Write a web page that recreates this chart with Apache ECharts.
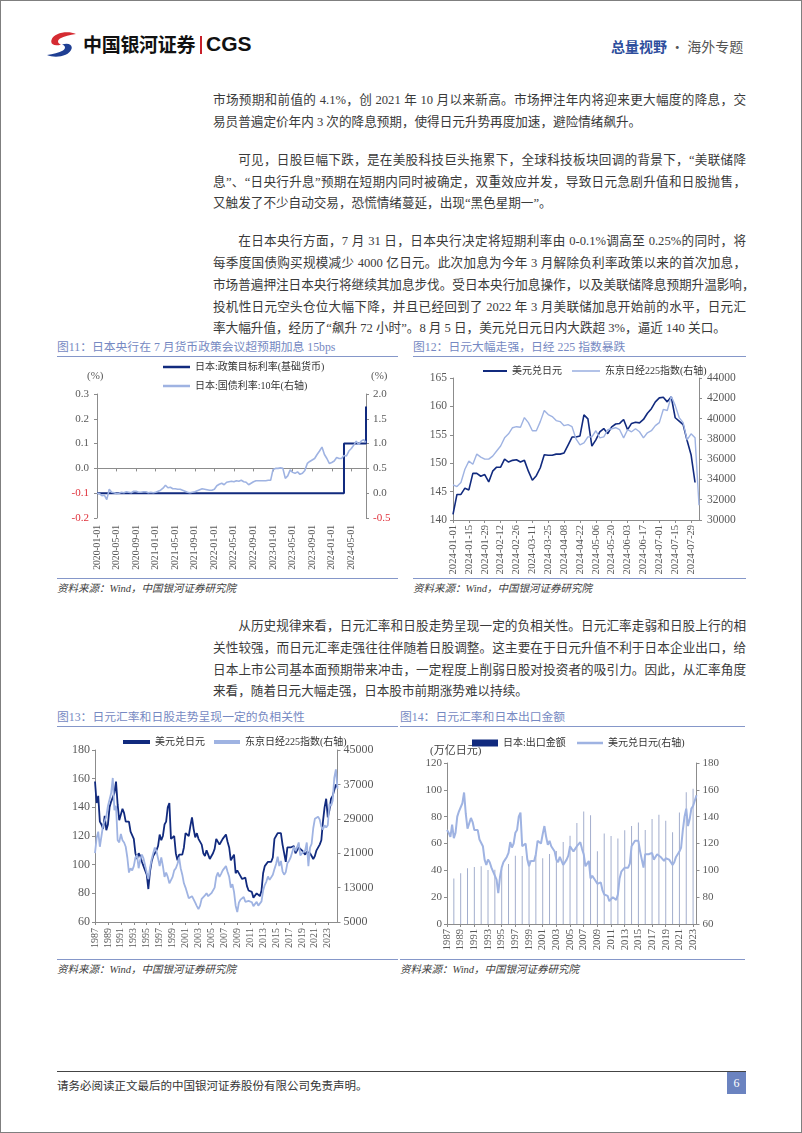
<!DOCTYPE html>
<html><head><meta charset="utf-8">
<script src="https://cdn.jsdelivr.net/npm/echarts@6/dist/echarts.min.js"></script>
<style>
html,body{margin:0;padding:0;background:#fff;}
#page{position:relative;width:802px;height:1133px;overflow:hidden;background:#fff;}
#frame{position:absolute;left:0;top:0;width:800px;height:1131px;border:1px solid #7f7f7f;}
.t{position:absolute;left:213px;width:533px;height:22px;line-height:22px;font-size:12.6px;color:#3a3a3a;white-space:nowrap;font-family:"Liberation Serif","Noto Sans CJK SC",serif;text-align:justify;text-align-last:justify;}
.t.l{text-align-last:left;}
.t.i{text-indent:2em;}
.ttl{position:absolute;height:18px;line-height:18px;font-size:11.8px;color:#7689c2;white-space:nowrap;font-family:"Liberation Serif","Noto Sans CJK SC",serif;}
.rule{position:absolute;height:1px;background:#8597c9;}
.src{position:absolute;height:16px;line-height:16px;font-size:10.5px;color:#404040;font-style:italic;white-space:nowrap;font-family:"Liberation Serif","Noto Sans CJK SC",serif;}
#chart{position:absolute;left:0;top:0;width:802px;height:1133px;}
</style></head>
<body><div id="page">
<div id="frame"></div>
<!-- header -->
<svg style="position:absolute;left:45px;top:32px" width="33" height="25" viewBox="0 0 33 25">
  <path d="M31 2 C23 -1.5 9 0.5 6.5 8 C5 13 10.5 14.5 16 12.5 C12.5 11.5 12 8.5 15 6.5 C19 4 25 3 31 2 Z" fill="#d52b32"/>
  <path d="M2 23 C10 26.5 24 24.5 26.5 17 C28 12 22.5 10.5 17 12.5 C20.5 13.5 21 16.5 18 18.5 C14 21 8 22 2 23 Z" fill="#1f3f93"/>
</svg>
<div style="position:absolute;left:83px;top:33px;font-size:19px;line-height:22px;font-weight:bold;color:#111;font-family:'Noto Sans CJK SC',sans-serif;letter-spacing:-0.3px">中国银河证券</div>
<div style="position:absolute;left:200px;top:36px;width:2px;height:18px;background:#c8202a"></div>
<div style="position:absolute;left:206px;top:32px;font-size:21px;line-height:24px;font-weight:bold;color:#111;font-family:'Liberation Sans',Arial,sans-serif">CGS</div>
<div style="position:absolute;left:611px;top:37px;font-size:14px;line-height:18px;white-space:nowrap;font-family:'Noto Sans CJK SC',serif"><span style="color:#2d4d9c;font-weight:bold">总量视野</span><span style="color:#555"> · 海外专题</span></div>

<!-- paragraphs -->
<div class="t" style="top:89px">市场预期和前值的 4.1%，创 2021 年 10 月以来新高。市场押注年内将迎来更大幅度的降息，交</div>
<div class="t l" style="top:111px">易员普遍定价年内 3 次的降息预期，使得日元升势再度加速，避险情绪飙升。</div>

<div class="t i" style="top:149px">可见，日股巨幅下跌，是在美股科技巨头拖累下，全球科技板块回调的背景下，“美联储降</div>
<div class="t" style="top:171px">息”、“日央行升息”预期在短期内同时被确定，双重效应并发，导致日元急剧升值和日股抛售，</div>
<div class="t l" style="top:192px">又触发了不少自动交易，恐慌情绪蔓延，出现“黑色星期一”。</div>

<div class="t i" style="top:230px">在日本央行方面，7 月 31 日，日本央行决定将短期利率由 0-0.1%调高至 0.25%的同时，将</div>
<div class="t" style="top:252px">每季度国债购买规模减少 4000 亿日元。此次加息为今年 3 月解除负利率政策以来的首次加息，</div>
<div class="t" style="top:274px">市场普遍押注日本央行将继续其加息步伐。受日本央行加息操作，以及美联储降息预期升温影响，</div>
<div class="t" style="top:296px">投机性日元空头仓位大幅下降，并且已经回到了 2022 年 3 月美联储加息开始前的水平，日元汇</div>
<div class="t l" style="top:317px">率大幅升值，经历了“飙升 72 小时”。8 月 5 日，美元兑日元日内大跌超 3%，逼近 140 关口。</div>

<div class="t i" style="top:615px">从历史规律来看，日元汇率和日股走势呈现一定的负相关性。日元汇率走弱和日股上行的相</div>
<div class="t" style="top:637px">关性较强，而日元汇率走强往往伴随着日股调整。这主要在于日元升值不利于日本企业出口，给</div>
<div class="t" style="top:659px">日本上市公司基本面预期带来冲击，一定程度上削弱日股对投资者的吸引力。因此，从汇率角度</div>
<div class="t l" style="top:680px">来看，随着日元大幅走强，日本股市前期涨势难以持续。</div>

<!-- chart titles / rules / sources -->
<div class="ttl" style="left:57px;top:338px">图11：日本央行在 7 月货币政策会议超预期加息 15bps</div>
<div class="rule" style="left:57px;top:356px;width:341px"></div>
<div class="ttl" style="left:413px;top:338px">图12：日元大幅走强，日经 225 指数暴跌</div>
<div class="rule" style="left:413px;top:356px;width:333px"></div>
<div class="rule" style="left:57px;top:578px;width:341px"></div>
<div class="rule" style="left:413px;top:578px;width:333px"></div>
<div class="src" style="left:57px;top:581px">资料来源：Wind，中国银河证券研究院</div>
<div class="src" style="left:413px;top:581px">资料来源：Wind，中国银河证券研究院</div>

<div class="ttl" style="left:57px;top:708px">图13：日元汇率和日股走势呈现一定的负相关性</div>
<div class="rule" style="left:57px;top:726px;width:341px"></div>
<div class="ttl" style="left:400px;top:708px">图14：日元汇率和日本出口金额</div>
<div class="rule" style="left:400px;top:726px;width:345px"></div>
<div class="rule" style="left:57px;top:959px;width:341px"></div>
<div class="rule" style="left:400px;top:959px;width:345px"></div>
<div class="src" style="left:57px;top:962px">资料来源：Wind，中国银河证券研究院</div>
<div class="src" style="left:400px;top:962px">资料来源：Wind，中国银河证券研究院</div>

<!-- footer -->
<div style="position:absolute;left:57px;top:1071px;width:689px;height:1px;background:#444"></div>
<div style="position:absolute;left:57px;top:1077px;font-size:11.5px;line-height:16px;color:#333;white-space:nowrap;font-family:'Noto Sans CJK SC',serif">请务必阅读正文最后的中国银河证券股份有限公司免责声明。</div>
<div style="position:absolute;left:727px;top:1072px;width:19px;height:22px;background:#6b83c0;color:#fff;font-size:12px;line-height:22px;text-align:center;font-family:'Liberation Serif',serif">6</div>

<div id="chart"></div>
</div>
<script>
// ---------- DATA ----------
// Fig 11: JGB 10Y yield (semi-monthly samples, right axis, %)
const jgb10y = [0.00,-0.01,-0.05,-0.04,-0.13,0.08,0.02,0.01,-0.01,0.00,
0.02,0.01,0.03,0.02,0.01,0.04,0.04,0.02,0.02,0.03,
0.03,0.01,0.02,0.01,0.02,0.04,0.06,0.10,0.16,0.11,
0.12,0.09,0.09,0.08,0.08,0.06,0.04,0.02,0.01,0.02,
0.03,0.05,0.07,0.09,0.08,0.07,0.06,0.06,0.08,0.15,
0.18,0.20,0.17,0.22,0.23,0.24,0.23,0.25,0.24,0.26,
0.23,0.22,0.17,0.20,0.23,0.25,0.25,0.25,0.25,0.25,
0.26,0.26,0.48,0.50,0.50,0.51,0.50,0.30,0.35,0.47,
0.42,0.40,0.43,0.38,0.40,0.46,0.60,0.64,0.67,0.70,
0.78,0.85,0.93,0.78,0.70,0.60,0.62,0.65,0.72,0.70,
0.70,0.76,0.75,0.85,0.90,0.97,1.05,0.98,1.05,1.08,
1.02];
// Fig 11: BOJ policy rate change points
const policyDates = ['2020-01-01','2024-03-16','2024-07-31'];
const policyRates = [-0.1, 0.1, 0.25];

// Fig 12: 2024 samples (Mon/Thu)
const usdJpy2024 = [141.0,144.5,144.5,145.6,145.3,148.2,148.2,147.7,148.0,146.7,
148.6,149.3,149.3,150.7,150.2,150.5,150.6,150.2,150.5,148.6,
147.0,147.8,149.2,151.5,151.4,151.4,151.6,151.6,151.8,153.2,
154.6,154.6,154.8,158.5,157.8,153.0,154.1,155.5,156.1,155.2,
156.4,156.9,157.0,157.7,155.9,157.0,157.2,157.1,157.7,158.8,
159.6,160.8,161.5,161.6,160.8,161.7,158.0,157.4,156.8,154.0,
151.5,146.6,null];
const nikkei2024 = [33460,33300,33700,35000,35800,35500,36500,36200,36000,36000,
36300,36800,37300,38100,38500,39100,39200,39150,40100,39600,
38800,38800,39700,40800,40400,40200,39800,39700,39300,39400,
39200,38000,37400,37600,38200,38200,38800,38100,38200,38900,
39000,39100,38900,38100,38900,38700,39000,38700,38100,38600,
38800,39300,39600,40900,40800,42200,41300,40100,39600,37900,
38500,38100,31460];

// Fig 13/14: quarterly 1987Q1 - 2024Q3
const usdJpyQ = [158,143,148,130, 128,125,134,124, 128,140,144,143, 150,158,142,131,
135,139,136,130, 129,130,123,123, 118,108,104,108, 106,102,99,99,
93,83,95,102, 106,108,110,113, 121,117,120,128, 130,140,143,118,
119,120,108,103, 107,106,107,112, 122,123,120,127, 133,125,119,122,
118,118,114,108, 106,110,110,104, 104,108,111,118, 117,114,116,118,
119,121,116,112, 103,105,107,94, 96,96,92,90, 91,91,85,82,
82,81,77,77, 80,80,78,82, 94,99,99,102, 103,102,105,118,
120,122,121,122, 114,108,102,112, 113,112,111,113, 108,109,112,112,
110,110,107,109, 109,108,106,104, 106,110,110,114, 117,130,140,146,
133,138,146,148, 148,156,154];
const nikkeiQ = [21000,24500,26000,22500, 25000,27500,27800,29500, 32000,33500,35000,38500, 31000,32000,24000,23500,
25500,24000,23500,22500, 20000,16500,17500,17000, 18000,20000,20500,17500, 19500,20700,19800,19500,
16500,15000,17500,19500, 21000,22300,21500,19800, 18000,20000,18000,15500, 16500,15500,14000,13800,
15500,17000,17500,18500, 20000,17500,16000,14000, 13000,13000,10500,10300, 11000,10800,9500,8700,
8000,8800,10400,10500, 11200,11700,11000,11300, 11700,11400,13000,15500, 16500,15500,16200,17000,
17300,18000,16700,15500, 13000,13800,12000,8800, 7300,9500,10200,10300, 10800,9700,9300,9900,
10300,9600,8700,8500, 9700,8800,8900,9800, 12300,13600,14400,15600, 14800,15200,16000,17300,
18500,20200,18000,19200, 16800,16000,16600,18700, 19200,20000,20300,22500, 21500,22400,23500,20500,
21000,21300,21600,23500, 18000,22300,23200,26800, 29000,28900,29500,28800, 27200,26500,27500,27000,
27500,32500,32000,33200, 38500,40500,36000];
// Fig 14: annual exports (trillion yen), 1988-2023
const exportYears = [1988,1989,1990,1991,1992,1993,1994,1995,1996,1997,1998,1999,2000,2001,2002,2003,2004,2005,
2006,2007,2008,2009,2010,2011,2012,2013,2014,2015,2016,2017,2018,2019,2020,2021,2022,2023];
const exportValues = [33.9,37.8,41.5,42.4,43.0,40.2,40.5,41.5,44.7,50.9,50.6,47.5,51.7,49.0,52.1,54.5,61.2,65.7,
75.2,83.9,81.0,54.2,67.4,65.5,63.7,69.8,73.1,75.6,70.0,78.3,81.5,76.9,68.4,83.1,98.2,100.9];

// ---------- CATEGORIES ----------
const semiMonthDates = [];
for (let y = 2020; y <= 2024; y++) for (let m = 1; m <= 12; m++) {
  if (y === 2024 && m > 7) break;
  const mm = String(m).padStart(2, '0');
  semiMonthDates.push(y + '-' + mm + '-01', y + '-' + mm + '-16');
}
semiMonthDates.push('2024-07-31');

const days2024 = [];
for (let d = 0; d <= 217; d++) {
  if (d % 7 === 0 || d % 7 === 3) {
    const dt = new Date(Date.UTC(2024, 0, 1 + d));
    days2024.push(dt.toISOString().slice(0, 10));
  }
}
const quarters = [];
for (let y = 1987; y <= 2024; y++) for (let q = 1; q <= 4; q++) quarters.push(y + 'Q' + q);
quarters.length = usdJpyQ.length;
const q14 = quarters.slice(3, 150);
const usd14 = usdJpyQ.slice(3, 150);
const exportData = exportYears.map((y, i) => [y + 'Q4', exportValues[i]]);

// ---------- STYLE ----------
const NAVY = '#112a7e', LIGHT = '#9fb3e2', GRAY = '#8c8c8c', LBL = '#595959', RED = '#e0313b';
const FF = '"Liberation Serif","Noto Sans CJK SC",serif';

function xCat(grid, data, interval, o) {
  o = o || {};
  return Object.assign({
    type: 'category', gridIndex: grid, data: data, boundaryGap: false, position: 'bottom',
    axisLine: { show: true, onZero: false, lineStyle: { color: GRAY, width: 1 } },
    axisTick: { show: true, interval: interval, length: 3, lineStyle: { color: GRAY } },
    axisLabel: { show: true, interval: interval, rotate: 90, margin: o.margin || 5, fontSize: o.fs || 10,
      color: LBL, fontFamily: FF, formatter: o.fmt },
    splitLine: { show: false }
  }, o.extra || {});
}
const plain = v => String(v);
function yVal(grid, pos, min, max, interval, o) {
  o = o || {};
  return {
    type: 'value', gridIndex: grid, position: pos, min: min, max: max, interval: interval,
    axisLine: { show: true, lineStyle: { color: GRAY, width: 1 } },
    axisTick: { show: true, length: 3, lineStyle: { color: GRAY } },
    axisLabel: { margin: o.margin || 6, fontSize: o.fs || 11, color: o.color || LBL, fontFamily: FF, formatter: o.fmt || plain },
    splitLine: { show: false }
  };
}
const fix1 = v => (Math.abs(v) < 1e-9 ? '0.0' : v.toFixed(1));
const redNeg = v => (v < -1e-9 ? RED : LBL);
const legTxt = { fontSize: 10, color: '#333', fontFamily: FF };
function leg(name, left, top, w, h, extra) {
  return Object.assign({ data: [name], left: left, top: top, padding: 0, icon: 'rect',
    itemWidth: w, itemHeight: h, textStyle: legTxt, itemGap: 0, selectedMode: false }, extra || {});
}

const option = {
  animation: false,
  grid: [
    { left: 97, top: 394, width: 269, height: 124 },
    { left: 453, top: 378, width: 246, height: 142 },
    { left: 95, top: 750, width: 242.5, height: 172 },
    { left: 447, top: 763, width: 249.5, height: 161 }
  ],
  legend: [
    leg('日本:政策目标利率(基础货币)', 163, 362, 27, 2.5),
    leg('日本:国债利率:10年(右轴)', 163, 381, 27, 2.5),
    leg('美元兑日元', 483, 366, 24, 2),
    leg('东京日经225指数(右轴)', 572, 366, 28, 1.6),
    leg('美元兑日元', 123, 737, 27, 4),
    leg('东京日经225指数(右轴)', 214, 737, 26, 4),
    leg({ name: '日本:出口金额', itemStyle: { color: NAVY } }, 472, 738, 26, 7),
    leg('美元兑日元(右轴)', 577, 738, 26, 2.5)
  ],
  xAxis: [
    xCat(0, semiMonthDates, 7, { extra: {
      axisLine: { show: true, onZero: true, onZeroAxisIndex: 0, lineStyle: { color: GRAY, width: 1 } },
      axisLabel: { show: false } } }),
    xCat(0, semiMonthDates, 7, { margin: 7, fs: 9.6, extra: {
      axisLine: { show: false, onZero: false }, axisTick: { show: false } } }),
    xCat(1, days2024, 3, { margin: 5, fs: 10.6 }),
    xCat(2, quarters, 7, { margin: 6, fs: 10, fmt: v => v.slice(0, 4) }),
    xCat(3, q14, 7, { margin: 5, fs: 10.6, fmt: v => v.slice(0, 4) })
  ],
  yAxis: [
    yVal(0, 'left', -0.2, 0.3, 0.1, { margin: 8, fs: 11, fmt: fix1, color: redNeg }),
    yVal(0, 'right', -0.5, 2.0, 0.5, { margin: 7, fs: 11, fmt: fix1, color: redNeg }),
    yVal(1, 'left', 140, 165, 5, { margin: 6, fs: 11.5 }),
    yVal(1, 'right', 30000, 44000, 2000, { margin: 8, fs: 11.5 }),
    yVal(2, 'left', 60, 180, 20, { margin: 5, fs: 12 }),
    yVal(2, 'right', 5000, 45000, 8000, { margin: 6, fs: 12 }),
    yVal(3, 'left', 0, 120, 20, { margin: 5, fs: 11 }),
    yVal(3, 'right', 60, 180, 20, { margin: 6, fs: 11 })
  ],
  graphic: [
    { type: 'text', left: 87, top: 371, style: { text: '(%)', fontSize: 11, fill: LBL, fontFamily: FF } },
    { type: 'text', left: 371, top: 371, style: { text: '(%)', fontSize: 11, fill: LBL, fontFamily: FF } },
    { type: 'text', left: 430, top: 746, style: { text: '(万亿日元)', fontSize: 11, fill: '#404040', fontFamily: FF } }
  ],
  series: [
    { name: '日本:政策目标利率(基础货币)', type: 'line', xAxisIndex: 0, yAxisIndex: 0, step: 'end',
      data: policyDates.map((d, i) => [d, policyRates[i]]), symbol: 'none', z: 3,
      lineStyle: { color: NAVY, width: 2 }, itemStyle: { color: NAVY } },
    { name: '日本:国债利率:10年(右轴)', type: 'line', xAxisIndex: 0, yAxisIndex: 1, data: jgb10y, symbol: 'none',
      lineStyle: { color: LIGHT, width: 1.6 }, itemStyle: { color: LIGHT } },
    { name: '美元兑日元', type: 'line', xAxisIndex: 2, yAxisIndex: 2, data: usdJpy2024, symbol: 'none',
      lineStyle: { color: NAVY, width: 1.6 }, itemStyle: { color: NAVY } },
    { name: '东京日经225指数(右轴)', type: 'line', xAxisIndex: 2, yAxisIndex: 3, data: nikkei2024, symbol: 'none',
      lineStyle: { color: LIGHT, width: 1.4 }, itemStyle: { color: LIGHT } },
    { name: '美元兑日元', type: 'line', xAxisIndex: 3, yAxisIndex: 4, data: usdJpyQ, symbol: 'none',
      lineStyle: { color: NAVY, width: 1.8 }, itemStyle: { color: NAVY } },
    { name: '东京日经225指数(右轴)', type: 'line', xAxisIndex: 3, yAxisIndex: 5, data: nikkeiQ, symbol: 'none',
      lineStyle: { color: LIGHT, width: 1.8 }, itemStyle: { color: LIGHT } },
    { name: '日本:出口金额', type: 'bar', xAxisIndex: 4, yAxisIndex: 6, data: exportData, barWidth: 1,
      itemStyle: { color: '#a3aecd' } },
    { name: '美元兑日元(右轴)', type: 'line', xAxisIndex: 4, yAxisIndex: 7, data: usd14, symbol: 'none',
      lineStyle: { color: LIGHT, width: 2 }, itemStyle: { color: LIGHT } }
  ]
};
const chart = echarts.init(document.getElementById('chart'), null, { renderer: 'canvas', width: 802, height: 1133 });
chart.setOption(option);
</script>
</body></html>
